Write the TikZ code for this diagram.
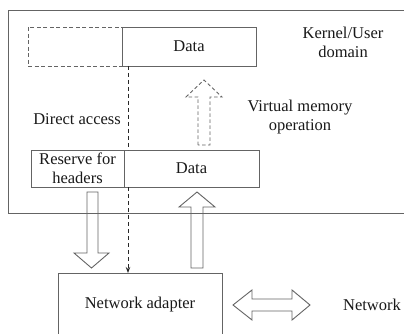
\documentclass[tikz,border=0pt]{standalone}
\usepackage{fontspec}
\setmainfont{Liberation Serif}
\usetikzlibrary{arrows.meta}
\definecolor{lc}{RGB}{100,100,100}
\definecolor{tc}{RGB}{25,25,25}
\begin{document}
\begin{tikzpicture}[x=1pt,y=-1pt,
  lbl/.style={text=tc,font=\fontsize{16.5}{19}\selectfont,align=center,inner sep=0},
  boxnode/.style={draw=lc,line width=0.9pt,inner sep=0,text=tc,font=\fontsize{16.5}{19}\selectfont,align=center},
  dbox/.style={boxnode,dash pattern=on 4pt off 2.5pt},
  hollow/.style={draw=lc,line width=0.9pt,line join=miter},
  hollowd/.style={hollow,dash pattern=on 3.5pt off 2.5pt},
  access/.style={draw=tc!80!lc,line width=1pt,dash pattern=on 4pt off 3pt}
]
\useasboundingbox (0,0) rectangle (404,334);
\fill[white] (0,0) rectangle (404,334);
% kernel/user domain frame
\draw[draw=lc,line width=0.9pt] (404,10) -- (8,10) -- (8,213) -- (404,213);
% top buffers
\node[dbox,minimum width=94pt,minimum height=39pt] (ghost) at (75,46.5) {};
\node[boxnode,minimum width=134pt,minimum height=39pt] (udata) at (189,46.5) {Data};
\node[lbl] (kud) at (343,42.5) {Kernel/User\\domain};
% bottom buffers
\node[boxnode,minimum width=93pt,minimum height=37pt] (reserve) at (77.5,168.5) {Reserve for\\headers};
\node[boxnode,minimum width=135pt,minimum height=37pt] (kdata) at (191.5,168.5) {Data};
% labels
\node[lbl] (da) at (77,119) {Direct access};
\node[lbl] (vmo) at (300,117.5) {Virtual memory\\operation};
% network adapter (open at bottom)
\draw[draw=lc,line width=0.9pt] (58,334) -- (58,273) -- (222,273) -- (222,334);
\node[lbl] (nic) at (140,305) {Network adapter};
\node[lbl] (net) at (372,305) {Network};
% direct access dashed connector
\coordinate (da1) at (128,66);
\coordinate (da2) at (128,150);
\coordinate (da3) at (128,187);
\coordinate (da4) at (128,273);
\draw[access] (da1) -- (da2);
\draw[access,-{Stealth[length=6pt,width=4.5pt]}] (da3) -- (da4);
% virtual memory dashed hollow arrow
\draw[hollowd] (198,145) -- (198,97) -- (186,97) -- (204,80) -- (222,97) -- (210,97) -- (210,145) -- cycle;
% hollow down arrow (send)
\draw[hollow] (87,192) -- (87,253) -- (74,253) -- (91.5,268) -- (109,253) -- (98,253) -- (98,192) -- cycle;
% hollow up arrow (receive)
\draw[hollow] (191,268) -- (191,207) -- (179,207) -- (197,192) -- (215,207) -- (203,207) -- (203,268) -- cycle;
% double arrow to network
\draw[hollow] (233,305) -- (252,290) -- (252,299) -- (292,299) -- (292,290) -- (310,305) -- (292,320) -- (292,311) -- (252,311) -- (252,320) -- cycle;
\end{tikzpicture}
\end{document}
